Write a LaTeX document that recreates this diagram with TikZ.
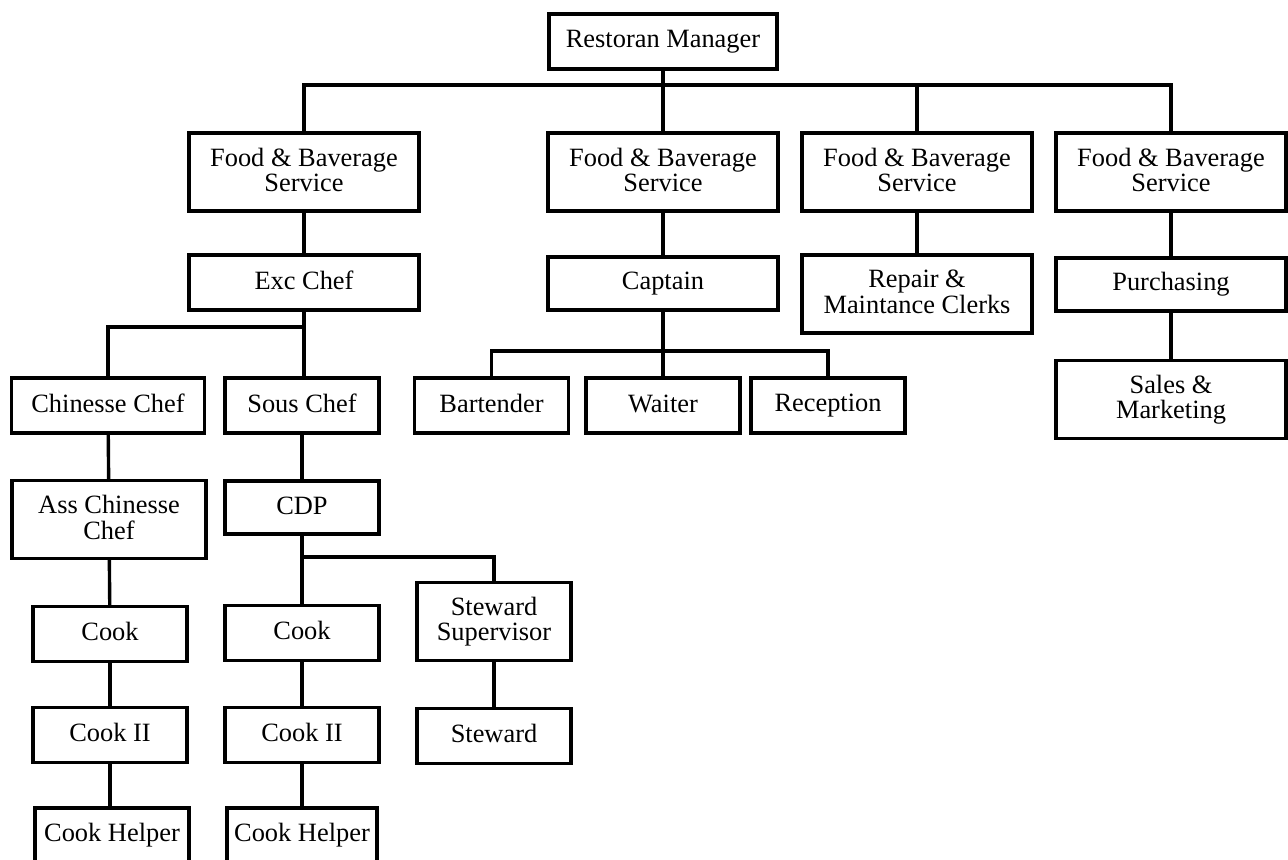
\documentclass[tikz,border=0pt]{standalone}
\usepackage{fontspec}
\setmainfont{Liberation Serif}
\usepackage{tikz}
\usetikzlibrary{positioning}
\newcommand{\boxstrut}{\rule[-2.2pt]{0pt}{10pt}}

\begin{document}
\begin{tikzpicture}[x=0.5pt,y=-0.5pt,-,line width=1.7pt,
    box/.style={rectangle,draw,line width=1.7pt,align=center,inner sep=0pt,
      font=\fontsize{13.2pt}{12.6pt}\selectfont,minimum height=27.5pt,
      execute at begin node=\boxstrut,execute at end node=\boxstrut},
    wide box/.style={box,minimum width=115pt},
    small box/.style={box,minimum width=77pt},
    tall box/.style={minimum height=39pt}]
   \useasboundingbox (0,0) rectangle (1288,859);
   \begin{scope}
     % top
     \node[box,minimum width=114pt] (mgr) at (663,41.5) {Restoran Manager};
     \node[wide box,tall box] (fbsa) at (304,172) {Food \& Baverage\\Service};
     \node[wide box,tall box] (fbsb) at (663,172) {Food \& Baverage\\Service};
     \node[wide box,tall box] (fbsc) at (917,172) {Food \& Baverage\\Service};
     \node[wide box,tall box] (fbsd) at (1171,172) {Food \& Baverage\\Service};
     % second row
     \node[wide box] (exc) at (304,282.5) {Exc Chef};
     \node[wide box,minimum height=26.5pt] (capt) at (663,283.5) {Captain};
     \node[wide box,tall box] (rep) at (917,294) {Repair \&\\Maintance Clerks};
     \node[wide box,minimum height=26.5pt] (purch) at (1171,284.5) {Purchasing};
     \node[wide box,tall box] (sales) at (1171,399.5) {Sales \&\\Marketing};
     % kitchen and service
     \node[box,minimum width=96.5pt] (chin) at (108,405.5) {Chinesse Chef};
     \node[small box] (sous) at (302,405.5) {Sous Chef};
     \node[small box] (bart) at (491.5,405.5) {Bartender};
     \node[small box] (waiter) at (663,405.5) {Waiter};
     \node[small box] (recep) at (828,405.5) {Reception};
     \node[box,tall box,minimum width=97pt] (ass) at (109,519.5) {Ass Chinesse\\Chef};
     \node[small box,minimum height=26.5pt] (cdp) at (302,507.5) {CDP};
     \node[small box,tall box] (stsup) at (494,621.5) {Steward\\Supervisor};
     \node[small box] (cooka) at (110,634) {Cook};
     \node[small box] (cookb) at (302,633) {Cook};
     \node[small box] (cookiia) at (110,735) {Cook II};
     \node[small box] (cookiib) at (302,735) {Cook II};
     \node[small box] (stew) at (494,736) {Steward};
     \node[small box] (helpa) at (112,835.5) {Cook Helper};
     \node[small box,minimum width=75pt] (helpb) at (302,835.5) {Cook Helper};
     % bus lines
     \coordinate (topbus) at (663,85);
     \coordinate (excbus) at (304,327);
     \coordinate (captbus) at (663,351);
     \coordinate (cdpbus) at (302,557);
     \path (mgr) edge (fbsb);
     \draw (fbsa.north) |- (topbus) -| (fbsd.north);
     \draw (topbus) -| (fbsc.north);
     \path (fbsa) edge (exc);
     \path (fbsb) edge (capt);
     \path (fbsc) edge (rep);
     \path (fbsd) edge (purch);
     \path (purch) edge (sales);
     \draw (exc.south) -- (exc.south |- sous.north);
     \draw (chin.north) |- (excbus);
     \path (capt) edge (waiter);
     \draw (bart.north) |- (captbus) -| (recep.north);
     \path (chin) edge (ass);
     \path (ass) edge (cooka);
     \path (cooka) edge (cookiia);
     \path (cookiia) edge (helpa.north -| cookiia.south);
     \path (sous) edge (cdp);
     \path (cdp) edge (cookb);
     \draw (cdpbus) -| (stsup.north);
     \path (cookb) edge (cookiib);
     \path (cookiib) edge (helpb);
     \path (stsup) edge (stew);
   \end{scope}
\end{tikzpicture}
\end{document}
